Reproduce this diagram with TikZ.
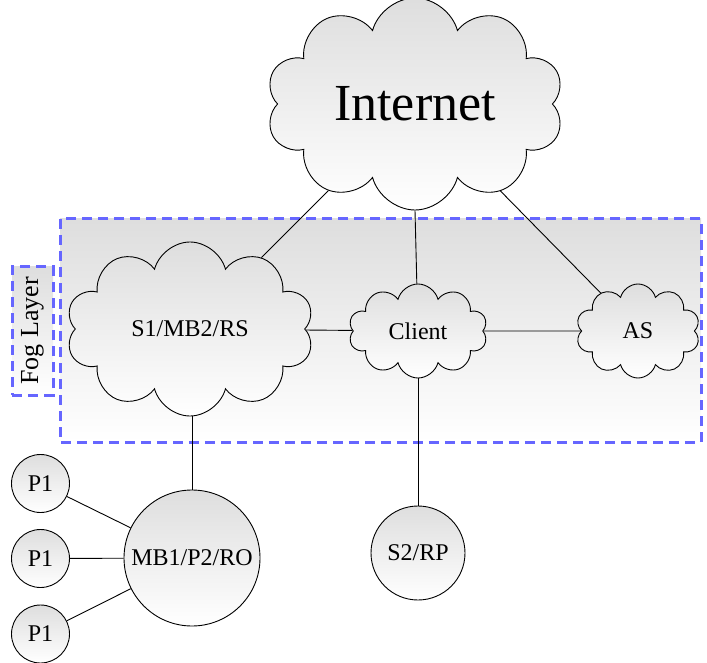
\documentclass[tikz,border=0pt]{standalone}
\usepackage{fontspec}
\setmainfont{Liberation Serif}
\usetikzlibrary{shapes.symbols,backgrounds}
\definecolor{fogblue}{RGB}{102,102,255}
\tikzset{
  cloudnode/.style={cloud, cloud puffs=10, cloud ignores aspect, draw, line width=0.9pt, inner sep=0pt,
    top color=black!13, bottom color=white, font=\fontsize{24}{26}\selectfont},
  circnode/.style={circle, draw, line width=0.9pt, inner sep=0pt,
    top color=black!13, bottom color=white, font=\fontsize{24}{26}\selectfont},
  link/.style={line width=0.9pt},
  fogbox/.style={draw=fogblue, line width=3pt, dash pattern=on 10pt off 6pt,
    top color=black!13, bottom color=white}
}
\begin{document}
\begin{tikzpicture}[x=1pt,y=-1pt]
\useasboundingbox (0,0) rectangle (707,663);
\path[fogbox] (60,219) rectangle (701,442);
\node[fogbox, minimum width=41pt, minimum height=128pt, inner sep=0pt,
  font=\fontsize{26}{28}\selectfont] (foglabel) at (32.5,331)
  {\rotatebox{90}{Fog Layer}};
\node[cloudnode, minimum width=298pt, minimum height=212pt,
  font=\fontsize{52}{56}\selectfont] (inet) at (415,104) {Internet};
\node[cloudnode, minimum width=248pt, minimum height=174pt] (s1) at (190,329) {S1/MB2/RS};
\node[cloudnode, minimum width=139pt, minimum height=94pt] (client) at (418,331) {Client};
\node[cloudnode, minimum width=124pt, minimum height=94pt] (as) at (638,331) {AS};
\node[circnode, minimum size=136pt] (mb) at (192,558) {MB1/P2/RO};
\node[circnode, minimum size=94pt] (s2) at (418,553) {S2/RP};
\node[circnode, minimum size=58pt] (pa) at (40.5,483.5) {P1};
\node[circnode, minimum size=58pt] (pb) at (40.5,558.5) {P1};
\node[circnode, minimum size=58pt] (pc) at (40.5,634) {P1};
\draw[link] (inet) -- (s1);
\draw[link] (inet.center |- inet.south) -- (client);
\draw[link] (inet) -- (as);
\draw[link] (s1) -- (client);
\draw[link] (client) -- (as);
\draw[link] (s1.south -| mb.north) -- (mb.north);
\draw[link] (client) -- (s2);
\draw[link] (pa) -- (mb);
\draw[link] (pb) -- (mb);
\draw[link] (pc) -- (mb);
\end{tikzpicture}
\end{document}
